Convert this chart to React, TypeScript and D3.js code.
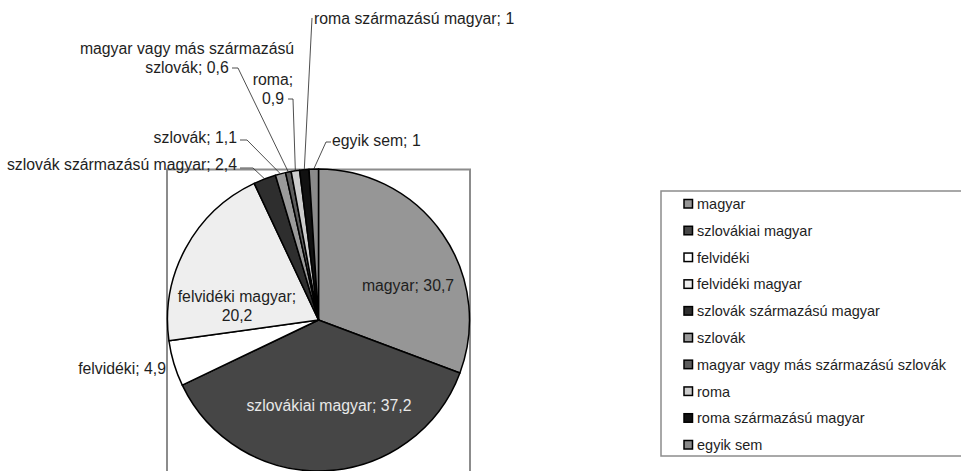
import * as d3 from "d3"

const categories = [
  "magyar",
  "szlovákiai magyar",
  "felvidéki",
  "felvidéki magyar",
  "szlovák származású magyar",
  "szlovák",
  "magyar vagy más származású szlovák",
  "roma",
  "roma származású magyar",
  "egyik sem",
]
const values = [30.7, 37.2, 4.9, 20.2, 2.4, 1.1, 0.6, 0.9, 1, 1]
const fills = ["#969696", "#464646", "#ffffff", "#eeeeee", "#2e2e2e", "#9a9a9a", "#5c5c5c", "#cccccc", "#111111", "#8a8a8a"]

// label placement (like dragged Excel labels), leader lines end on the arc
// wrap: "none" | "value" (value on 2nd line) | "word" (last word + value on 2nd line)
type LabelPos = {
  x: number
  y: number
  anchor: "start" | "middle" | "end"
  wrap: "none" | "value" | "word"
  color?: string
  leader?: { x: number; y: number; stub: number }
}
const labelLayout: LabelPos[] = [
  { x: 408, y: 285, anchor: "middle", wrap: "none" },
  { x: 329, y: 405, anchor: "middle", wrap: "none", color: "#e8e8e8" },
  { x: 166, y: 368, anchor: "end", wrap: "none" },
  { x: 237, y: 306, anchor: "middle", wrap: "value" },
  { x: 237, y: 164, anchor: "end", wrap: "none", leader: { x: 240, y: 168, stub: 13 } },
  { x: 237, y: 137, anchor: "end", wrap: "none", leader: { x: 240, y: 140, stub: 7 } },
  { x: 187, y: 58, anchor: "middle", wrap: "word", leader: { x: 232, y: 68, stub: 6 } },
  { x: 273, y: 89, anchor: "middle", wrap: "value", leader: { x: 288, y: 99, stub: 5 } },
  { x: 314, y: 18, anchor: "start", wrap: "none", leader: { x: 312, y: 18, stub: 0 } },
  { x: 332, y: 140, anchor: "start", wrap: "none", leader: { x: 331, y: 142, stub: -5 } },
]

const width = 961
const height = 471
const cx = 318.5
const cy = 320
const radius = 151
const font = "'Liberation Sans', Arial, sans-serif"

const fmt = (v: number) => String(v).replace(".", ",")

function labelLines(name: string, v: number, wrap: LabelPos["wrap"]) {
  if (wrap === "value") return [`${name};`, fmt(v)]
  if (wrap === "word") {
    const cut = name.lastIndexOf(" ")
    return [name.slice(0, cut), `${name.slice(cut + 1)}; ${fmt(v)}`]
  }
  return [`${name}; ${fmt(v)}`]
}

export default function App() {
  const pie = d3
    .pie<number>()
    .sort(null)
    .value((d) => d)
  const arcs = pie(values)
  const arc = d3.arc<d3.PieArcDatum<number>>().innerRadius(0).outerRadius(radius)

  const legendY = d3
    .scalePoint<string>()
    .domain(categories)
    .range([204, 445])

  return (
    <svg
      width={width}
      height={height}
      style={{ position: "absolute", left: 0, top: 0, background: "#fff" }}
      fontFamily={font}
    >
      {/* plot area */}
      <rect x={167} y={169.5} width={303} height={320} fill="none" stroke="#8c8c8c" strokeWidth={2} />

      <g transform={`translate(${cx},${cy})`}>
        {arcs.map((a, i) => (
          <path key={i} d={arc(a) || ""} fill={fills[i]} stroke="#000" strokeWidth={1.5} strokeLinejoin="round" />
        ))}
      </g>

      {/* labels */}
      {arcs.map((a, i) => {
        const l = labelLayout[i]
        const lines = labelLines(categories[i], values[i], l.wrap)
        const mid = (a.startAngle + a.endAngle) / 2
        const px = cx + radius * Math.sin(mid)
        const py = cy - radius * Math.cos(mid)
        const lh = 19
        return (
          <g key={i}>
            {l.leader && (
              <path
                d={`M${l.leader.x},${l.leader.y}L${l.leader.x + l.leader.stub},${l.leader.y}L${px},${py}`}
                fill="none"
                stroke="#222"
                strokeWidth={0.8}
              />
            )}
            <text x={l.x} y={l.y} textAnchor={l.anchor} fontSize={15.8} fill={l.color || "#1e1e1e"}>
              {lines.map((s, j) => (
                <tspan key={j} x={l.x} y={l.y + (j - (lines.length - 1) / 2) * lh} dy="0.35em">
                  {s}
                </tspan>
              ))}
            </text>
          </g>
        )
      })}

      {/* legend */}
      <rect x={661} y={191} width={320} height={265} fill="#fff" stroke="#8c8c8c" strokeWidth={1.5} />
      {categories.map((c, i) => (
        <g key={c} transform={`translate(683,${legendY(c)})`}>
          <rect x={1} y={-4.5} width={8.5} height={8.5} fill={fills[i]} stroke="#000" strokeWidth={1.5} />
          <text x={14} y={0} dy="0.35em" fontSize={14.5} fill="#1e1e1e">
            {c}
          </text>
        </g>
      ))}
    </svg>
  )
}
